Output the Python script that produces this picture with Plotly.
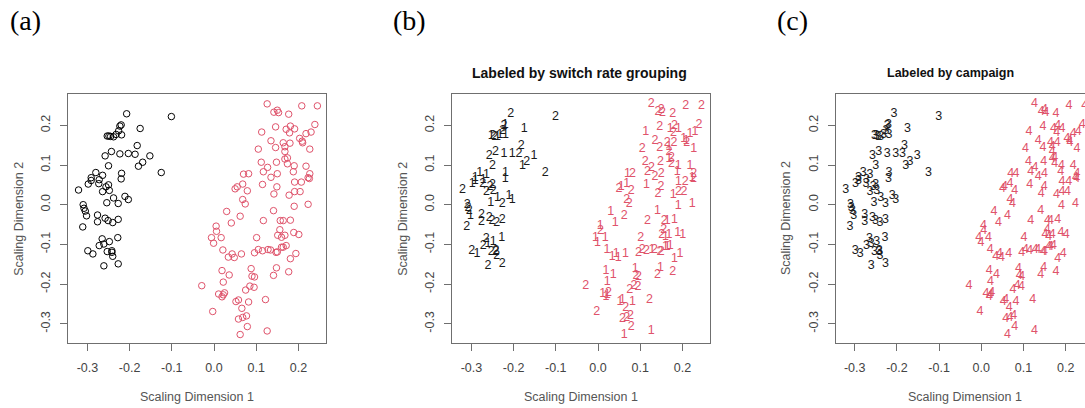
import plotly.graph_objects as go

# MDS configuration, campaign 3 (black)
dim1_c3 = [-0.321, -0.310, -0.308, -0.305, -0.302, -0.311, -0.298, -0.291, -0.291, -0.280,
           -0.273, -0.272, -0.264, -0.264, -0.256, -0.254, -0.250, -0.248, -0.258, -0.250,
           -0.243, -0.253, -0.249, -0.245, -0.238, -0.232, -0.226, -0.223, -0.220, -0.219,
           -0.207, -0.223, -0.203, -0.187, -0.182, -0.175, -0.179, -0.169, -0.152, -0.125,
           -0.101, -0.220, -0.219, -0.238, -0.227, -0.211, -0.203, -0.276, -0.276, -0.258,
           -0.251, -0.240, -0.227, -0.272, -0.265, -0.261, -0.299, -0.287, -0.253, -0.248,
           -0.242, -0.242, -0.240, -0.228, -0.261, -0.227]
dim2_c3 = [0.037, 0.000, -0.009, -0.016, -0.028, -0.056, 0.052, 0.068, 0.061, 0.081,
           0.053, 0.063, 0.074, 0.033, 0.045, 0.005, 0.050, 0.036, 0.123, 0.098,
           0.134, 0.173, 0.173, 0.172, 0.171, 0.177, 0.186, 0.198, 0.201, 0.176,
           0.229, 0.128, 0.129, 0.127, 0.149, 0.192, 0.097, 0.107, 0.123, 0.081,
           0.222, 0.065, 0.079, 0.017, 0.003, 0.021, 0.013, -0.026, -0.043, -0.034,
           -0.040, -0.045, -0.037, -0.103, -0.086, -0.099, -0.116, -0.124, -0.118, -0.093,
           -0.120, -0.116, -0.130, -0.083, -0.154, -0.149]
switch_c3 = [2, 2, 2, 2, 1, 2, 1, 1, 1, 1,
             2, 1, 1, 2, 2, 1, 2, 2, 2, 2,
             2, 1, 2, 2, 1, 1, 2, 2, 1, 1,
             2, 1, 1, 2, 2, 1, 1, 2, 1, 2,
             2, 1, 1, 1, 2, 1, 1, 2, 2, 2,
             2, 2, 2, 2, 2, 1, 2, 1, 2, 1,
             2, 2, 2, 1, 2, 2]

# MDS configuration, campaign 4 (red)
dim1_c4 = [0.126, 0.208, 0.245, 0.142, 0.150, 0.153, 0.177, 0.146, 0.181, 0.171,
           0.191, 0.179, 0.239, 0.230, 0.218, 0.113, 0.105, 0.135, 0.146, 0.164,
           0.168, 0.168, 0.180, 0.203, 0.209, 0.210, 0.227, 0.174, 0.168, 0.174,
           0.112, 0.148, 0.117, 0.127, 0.150, 0.135, 0.149, 0.115, 0.190, 0.188,
           0.218, 0.227, 0.226, 0.223, 0.191, 0.207, 0.178, 0.191, 0.204, 0.223,
           0.142, 0.190, 0.070, 0.082, 0.050, 0.055, 0.068, 0.079, 0.068, 0.074,
           0.030, 0.062, 0.041, 0.141, 0.117, 0.157, 0.164, 0.181, 0.005, 0.006,
           -0.006, -0.001, 0.017, 0.156, 0.151, 0.168, 0.160, 0.189, 0.201, 0.101,
           0.021, 0.034, 0.043, 0.048, 0.065, 0.096, 0.105, 0.115, 0.128, 0.134,
           0.147, 0.150, 0.160, 0.164, 0.171, 0.194, 0.181, 0.141, 0.148, 0.177,
           0.036, 0.019, 0.022, 0.088, 0.090, 0.096, 0.085, 0.095, 0.075, -0.029,
           0.011, 0.019, 0.025, 0.022, 0.052, 0.058, 0.082, 0.122, -0.003, 0.066,
           0.058, 0.068, 0.077, 0.079, 0.062, 0.126]
dim2_c4 = [0.254, 0.249, 0.249, 0.233, 0.238, 0.232, 0.228, 0.196, 0.198, 0.190,
           0.191, 0.181, 0.202, 0.183, 0.179, 0.183, 0.140, 0.161, 0.144, 0.156,
           0.146, 0.134, 0.155, 0.167, 0.160, 0.156, 0.140, 0.118, 0.115, 0.103,
           0.107, 0.107, 0.083, 0.094, 0.078, 0.069, 0.045, 0.051, 0.098, 0.083,
           0.097, 0.078, 0.066, 0.068, 0.057, 0.057, 0.024, 0.033, 0.033, 0.001,
           0.027, -0.004, 0.077, 0.078, 0.040, 0.045, 0.052, 0.035, 0.013, 0.002,
           -0.017, -0.029, -0.046, -0.015, -0.040, -0.040, -0.040, -0.039, -0.054, -0.067,
           -0.083, -0.097, -0.083, -0.063, -0.077, -0.077, -0.082, -0.070, -0.075, -0.083,
           -0.114, -0.132, -0.124, -0.133, -0.124, -0.121, -0.113, -0.116, -0.113, -0.114,
           -0.120, -0.119, -0.107, -0.107, -0.103, -0.123, -0.136, -0.178, -0.159, -0.169,
           -0.177, -0.166, -0.195, -0.161, -0.180, -0.182, -0.205, -0.208, -0.215, -0.204,
           -0.225, -0.232, -0.222, -0.227, -0.244, -0.240, -0.245, -0.239, -0.269, -0.261,
           -0.288, -0.284, -0.280, -0.307, -0.327, -0.318]
switch_c4 = [2, 2, 2, 2, 2, 2, 2, 2, 2, 1,
             1, 2, 2, 1, 1, 1, 2, 2, 2, 2,
             1, 2, 2, 1, 1, 2, 1, 2, 1, 2,
             2, 2, 2, 2, 2, 2, 2, 1, 1, 1,
             1, 2, 2, 1, 1, 2, 1, 2, 2, 1,
             2, 1, 1, 2, 2, 1, 1, 2, 2, 2,
             1, 2, 1, 1, 2, 2, 1, 1, 1, 2,
             1, 1, 1, 2, 2, 1, 1, 1, 1, 2,
             1, 1, 1, 1, 1, 2, 2, 2, 1, 2,
             2, 2, 1, 1, 1, 1, 1, 2, 1, 2,
             1, 1, 1, 1, 2, 2, 2, 2, 2, 2,
             1, 1, 2, 1, 1, 1, 1, 2, 2, 2,
             2, 2, 2, 2, 1, 1]

campaigns = [3, 4]
x_ticks = [-0.3, -0.2, -0.1, 0.0, 0.1, 0.2]
x_tick_text = ["-0.3", "-0.2", "-0.1", "0.0", "0.1", "0.2"]
y_ticks = [-0.3, -0.2, -0.1, 0.0, 0.1, 0.2]
y_tick_text = ["-0.3", "-0.2", "-0.1", "0.0", "0.1", "0.2"]

W, H = 1085, 408
BLACK = "#1a1a1a"
RED = "#DF536B"
FRAME = "#6f6f6f"
SANS = "Liberation Sans"
LABEL_SIZE = 12.5

fig = go.Figure()

# panel (a): open circles coloured by campaign
for xs, ys, col in [(dim1_c3, dim2_c3, "#000000"), (dim1_c4, dim2_c4, RED)]:
    fig.add_trace(go.Scatter(
        x=xs, y=ys, mode="markers", xaxis="x", yaxis="y",
        marker=dict(symbol="circle-open", size=6.5, color=col, line=dict(width=1, color=col)),
        showlegend=False, hoverinfo="skip"))

# panel (b): switch rate group as text labels
for xs, ys, labs, col in [(dim1_c3, dim2_c3, switch_c3, BLACK), (dim1_c4, dim2_c4, switch_c4, RED)]:
    fig.add_trace(go.Scatter(
        x=xs, y=ys, mode="text", xaxis="x2", yaxis="y2",
        text=[str(v) for v in labs], textposition="middle center",
        textfont=dict(family=SANS, size=LABEL_SIZE, color=col),
        showlegend=False, hoverinfo="skip"))

# panel (c): campaign number as text labels
for xs, ys, camp, col in [(dim1_c3, dim2_c3, campaigns[0], BLACK), (dim1_c4, dim2_c4, campaigns[1], RED)]:
    fig.add_trace(go.Scatter(
        x=xs, y=ys, mode="text", xaxis="x3", yaxis="y3",
        text=[str(camp)] * len(xs), textposition="middle center",
        textfont=dict(family=SANS, size=LABEL_SIZE, color=col),
        showlegend=False, hoverinfo="skip"))

# pixel geometry of the three plot boxes
box_top, box_bot = 94, 343
panels = [
    dict(left=68.0, right=326.0, x0=214.0),
    dict(left=452.0, right=710.0, x0=598.0),
    dict(left=835.7, right=1085.0, x0=981.3),
]
px_per_x = 422.0
px_per_y = 397.0
y0_px = 204.7

y_range = [(y0_px - box_bot) / px_per_y, (y0_px - box_top) / px_per_y]
y_domain = [1 - box_bot / H, 1 - box_top / H]

axis_common = dict(
    showgrid=False, zeroline=False, showline=True, mirror=True,
    linecolor=FRAME, linewidth=1.3, ticks="outside", ticklen=7,
    tickwidth=1, tickcolor=FRAME,
    tickfont=dict(family=SANS, size=12.5, color="#444444"),
)

for i, p in enumerate(panels):
    suffix = "" if i == 0 else str(i + 1)
    x_range = [(p["left"] - p["x0"]) / px_per_x, (p["right"] - p["x0"]) / px_per_x]
    fig.update_layout(**{
        "xaxis" + suffix: dict(
            axis_common, domain=[p["left"] / W, min(p["right"] / W, 1.0)], range=x_range,
            anchor="y" + suffix, tickvals=x_ticks, ticktext=x_tick_text,
            ticklabelstandoff=6),
        "yaxis" + suffix: dict(
            axis_common, domain=y_domain, range=y_range, anchor="x" + suffix,
            tickvals=y_ticks, ticktext=y_tick_text, tickangle=-90,
            ticklabelstandoff=5),
    })

annotations = []
# panel letters
for txt, cx in [("(a)", 25.5), ("(b)", 410.0), ("(c)", 792.5)]:
    annotations.append(dict(text=txt, x=cx / W, y=1 - 20.5 / H, xref="paper", yref="paper",
                            showarrow=False, xanchor="center", yanchor="middle",
                            font=dict(family="Liberation Serif", size=28, color="#000000")))
# panel titles
annotations.append(dict(text="<b>Labeled by switch rate grouping</b>", x=579 / W, y=1 - 73 / H,
                        xref="paper", yref="paper", showarrow=False, xanchor="center",
                        yanchor="middle", font=dict(family=SANS, size=14, color="#111111")))
annotations.append(dict(text="<b>Labeled by campaign</b>", x=950 / W, y=1 - 73 / H,
                        xref="paper", yref="paper", showarrow=False, xanchor="center",
                        yanchor="middle", font=dict(family=SANS, size=12.5, color="#111111")))
# axis titles
for cx, ytx in [(197.0, 18.3), (581.0, 402.3), (964.6, 785.6)]:
    annotations.append(dict(text="Scaling Dimension 1", x=cx / W, y=1 - 397 / H,
                            xref="paper", yref="paper", showarrow=False, xanchor="center",
                            yanchor="middle", font=dict(family=SANS, size=12.5, color="#555555")))
    annotations.append(dict(text="Scaling Dimension 2", x=ytx / W, y=1 - 218.5 / H,
                            xref="paper", yref="paper", showarrow=False, xanchor="center",
                            yanchor="middle", textangle=-90,
                            font=dict(family=SANS, size=12.5, color="#555555")))

fig.update_layout(
    width=W, height=H, margin=dict(l=0, r=0, t=0, b=0),
    paper_bgcolor="white", plot_bgcolor="white",
    annotations=annotations, showlegend=False,
)

fig.write_html("out.html", include_plotlyjs=True, full_html=True,
               config={"displayModeBar": False})
